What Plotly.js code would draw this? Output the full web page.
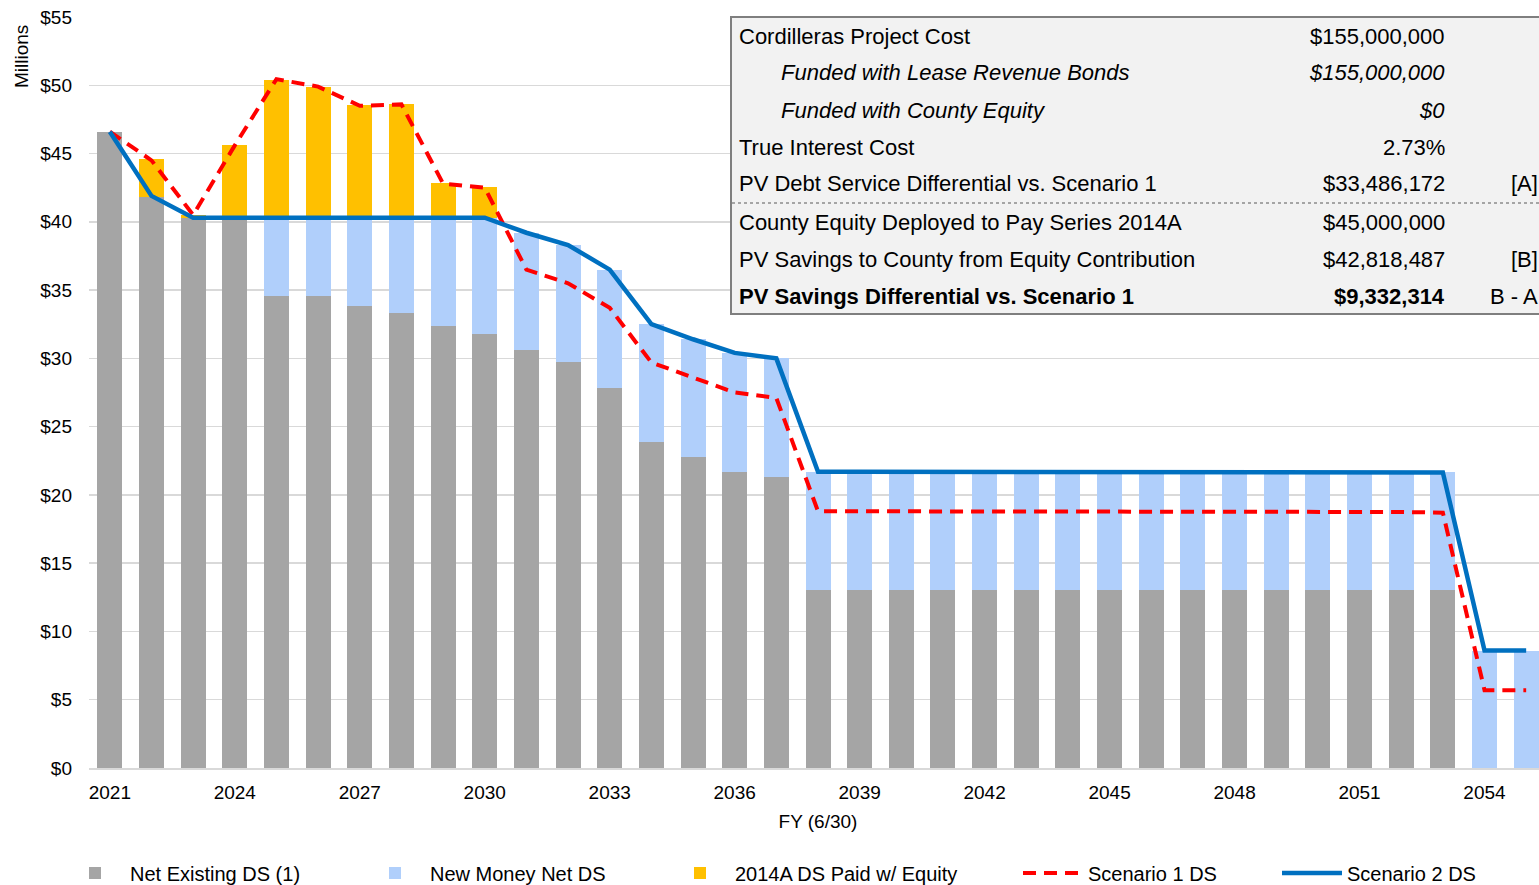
<!DOCTYPE html>
<html>
<head>
<meta charset="utf-8">
<script src="https://cdn.plot.ly/plotly-3.0.1.min.js"></script>
<style>
  html, body { margin: 0; padding: 0; overflow: hidden; background: #fff; }
  #chart { width: 1560px; height: 885px; }
</style>
</head>
<body>
<div id="chart"></div>
<script>
// Fiscal years (6/30)
const years = [];
for (let y = 2021; y <= 2055; y++) years.push(y);

// Millions of dollars
const netExisting = [46.6, 41.8, 40.3, 40.3, 34.6, 34.6, 33.8, 33.3, 32.4, 31.8,
  30.6, 29.7, 27.8, 23.9, 22.8, 21.7, 21.3, 13.05, 13.05, 13.05,
  13.05, 13.05, 13.0, 13.0, 13.05, 13.05, 13.05, 13.05, 13.0, 13.0,
  13.0, 13.0, 13.0, 0, 0];
const newMoney = [0, 0, 0, 0, 5.7, 5.7, 6.5, 7.0, 7.9, 8.5,
  8.6, 8.6, 8.7, 8.6, 8.6, 8.7, 8.7, 8.65, 8.65, 8.65,
  8.65, 8.65, 8.7, 8.7, 8.65, 8.65, 8.6, 8.6, 8.65, 8.65,
  8.65, 8.65, 8.65, 8.6, 8.6];
const paidWithEquity = [0, 2.8, 0.2, 5.3, 10.1, 9.6, 8.25, 8.3, 2.55, 2.25,
  0, 0, 0, 0, 0, 0, 0, 0, 0, 0,
  0, 0, 0, 0, 0, 0, 0, 0, 0, 0,
  0, 0, 0, 0, 0];
const scenario1 = [46.6, 44.5, 40.5, 45.6, 50.45, 49.9, 48.5, 48.6, 42.8, 42.5,
  36.5, 35.5, 33.7, 29.7, 28.6, 27.5, 27.1, 18.8, 18.8, 18.8,
  18.8, 18.8, 18.8, 18.8, 18.8, 18.8, 18.8, 18.8, 18.8, 18.75,
  18.75, 18.75, 18.7, 5.7, 5.7];
const scenario2 = [46.6, 41.9, 40.3, 40.3, 40.3, 40.3, 40.3, 40.3, 40.3, 40.3,
  39.2, 38.3, 36.5, 32.5, 31.4, 30.4, 30.0, 21.7, 21.7, 21.7,
  21.7, 21.7, 21.65, 21.65, 21.7, 21.7, 21.65, 21.65, 21.65, 21.65,
  21.65, 21.65, 21.65, 8.6, 8.6];

// Summary table text
const tableLabels = ['Cordilleras Project Cost', 'Funded with Lease Revenue Bonds', 'Funded with County Equity',
  'True Interest Cost', 'PV Debt Service Differential vs. Scenario 1', 'County Equity Deployed to Pay Series 2014A',
  'PV Savings to County from Equity Contribution', 'PV Savings Differential vs. Scenario 1'];
const tableValues = ['$155,000,000', '$155,000,000', '$0', '2.73%', '$33,486,172', '$45,000,000', '$42,818,487', '$9,332,314'];
const tableNotes = ['', '', '', '', '[A]', '', '[B]', 'B - A'];
const tableStyle = ['normal', 'italic', 'italic', 'normal', 'normal', 'normal', 'normal', 'bold'];

const FONT = 'Liberation Sans, Arial, sans-serif';

// plot area in pixels: left 89, right 1547, top 17, bottom 768
const L = 89, R = 1547, T = 17, B = 768;
const px = x => (x - L) / (R - L);
const py = y => (B - y) / (B - T);

// each series gets its own legend so the entries sit where the original has them
const legendX = [60, 360, 665, 1018, 1277];

const traces = [
  { type: 'bar', name: 'Net Existing DS (1)', x: years, y: netExisting, width: 0.6,
    marker: { color: '#a5a5a5' }, hoverinfo: 'skip', legend: 'legend' },
  { type: 'bar', name: 'New Money Net DS', x: years, y: newMoney, width: 0.6,
    marker: { color: '#b0cffb' }, hoverinfo: 'skip', legend: 'legend2' },
  { type: 'bar', name: '2014A DS Paid w/ Equity', x: years, y: paidWithEquity, width: 0.6,
    marker: { color: '#ffc000' }, hoverinfo: 'skip', legend: 'legend3' },
  { type: 'scatter', mode: 'lines', name: 'Scenario 1 DS', x: years, y: scenario1,
    line: { color: '#ff0000', width: 4, dash: '13px,8px' }, hoverinfo: 'skip', legend: 'legend4' },
  { type: 'scatter', mode: 'lines', name: 'Scenario 2 DS', x: years, y: scenario2,
    line: { color: '#0070c0', width: 4.5 }, hoverinfo: 'skip', legend: 'legend5' }
];

// table box + dotted separator
const shapes = [
  { type: 'rect', xref: 'paper', yref: 'paper', x0: px(731), x1: px(1580), y0: py(17), y1: py(314),
    fillcolor: '#f2f2f2', line: { color: '#7f7f7f', width: 2 }, layer: 'above' },
  { type: 'line', xref: 'paper', yref: 'paper', x0: px(732), x1: px(1580), y0: py(203), y1: py(203),
    line: { color: '#595959', width: 1.2, dash: 'dot' }, layer: 'above' }
];

const rowY = [37, 73, 110, 147, 184, 222, 259, 296];
const annotations = [];
tableLabels.forEach((label, i) => {
  const style = tableStyle[i];
  const f = { family: FONT, size: 22, color: '#000',
    style: style === 'italic' ? 'italic' : 'normal',
    weight: style === 'bold' ? 'bold' : 'normal' };
  annotations.push({ xref: 'paper', yref: 'paper', x: px(style === 'italic' ? 779 : 737), y: py(rowY[i]),
    xanchor: 'left', yanchor: 'middle', text: label, showarrow: false, font: f });
  annotations.push({ xref: 'paper', yref: 'paper', x: px(1447), y: py(rowY[i]),
    xanchor: 'right', yanchor: 'middle', text: tableValues[i], showarrow: false, font: f });
  if (tableNotes[i]) {
    annotations.push({ xref: 'paper', yref: 'paper', x: px(1540), y: py(rowY[i]),
      xanchor: 'right', yanchor: 'middle', text: tableNotes[i], showarrow: false,
      font: { family: FONT, size: 22, color: '#000' } });
  }
});
// y-axis unit label sits at the top of the axis
annotations.push({ xref: 'paper', yref: 'paper', x: px(21), y: py(57), xanchor: 'center', yanchor: 'middle',
  text: 'Millions', textangle: -90, showarrow: false, font: { family: FONT, size: 19, color: '#000' } });

const legendBase = {
  orientation: 'h', xanchor: 'left', yanchor: 'middle', y: py(873),
  font: { family: FONT, size: 20, color: '#000' }, itemwidth: 60, bgcolor: 'rgba(0,0,0,0)'
};

const layout = {
  width: 1560, height: 885,
  margin: { l: L, r: 1560 - R, t: T, b: 885 - B, autoexpand: false },
  paper_bgcolor: '#fff', plot_bgcolor: '#fff',
  barmode: 'stack',
  font: { family: FONT, size: 19, color: '#000' },
  showlegend: true,
  legend: Object.assign({}, legendBase, { x: px(legendX[0]) }),
  legend2: Object.assign({}, legendBase, { x: px(legendX[1]) }),
  legend3: Object.assign({}, legendBase, { x: px(legendX[2]) }),
  legend4: Object.assign({}, legendBase, { x: px(legendX[3]) }),
  legend5: Object.assign({}, legendBase, { x: px(legendX[4]) }),
  xaxis: {
    range: [2020.5, 2055.5], tickmode: 'linear', tick0: 2021, dtick: 3,
    showgrid: false, zeroline: false, showline: true, linecolor: '#d9d9d9', linewidth: 1.5,
    ticks: '', ticklabelstandoff: 7, tickfont: { family: FONT, size: 19 },
    title: { text: 'FY (6/30)', font: { family: FONT, size: 19 }, standoff: 12 }
  },
  yaxis: {
    range: [0, 55], tickmode: 'linear', tick0: 0, dtick: 5, tickprefix: '$',
    showgrid: true, gridcolor: '#d9d9d9', gridwidth: 1.5, zeroline: false, showline: false,
    ticks: '', ticklabelstandoff: 16, tickfont: { family: FONT, size: 19 }
  },
  shapes: shapes,
  annotations: annotations
};

Plotly.newPlot('chart', traces, layout, { staticPlot: true, displayModeBar: false });
</script>
</body>
</html>
